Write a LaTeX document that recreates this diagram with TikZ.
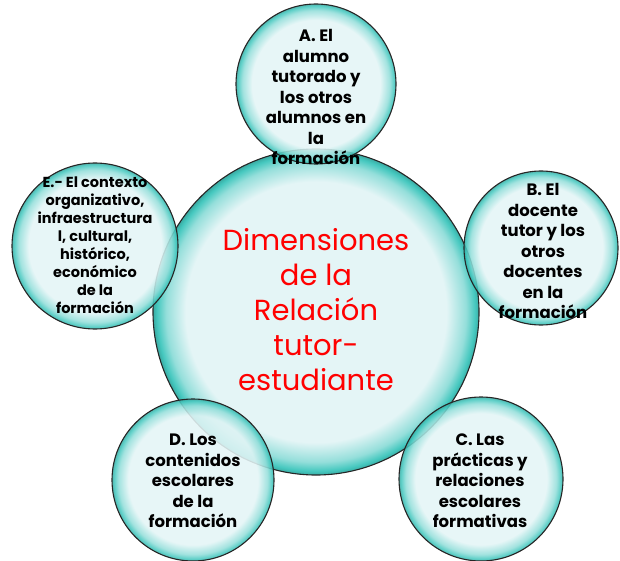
\documentclass[tikz,border=0pt]{standalone}
\usepackage{fontspec}
\setmainfont{Poppins}
\definecolor{aguaclaro}{HTML}{E4F5F6}
\definecolor{aguaborde}{HTML}{45C8BF}
\definecolor{rojo}{HTML}{FF0000}
\pgfdeclareradialshading{burbuja}{\pgfpoint{0bp}{0bp}}{color(0bp)=(aguaclaro); color(20bp)=(aguaclaro); color(23bp)=(aguaborde!50!aguaclaro); color(24.4bp)=(aguaborde); color(25bp)=(aguaborde!85!black); color(50bp)=(aguaborde)}
\tikzset{
  kreis/.style={circle, draw=black!85, line width=1.1pt, shading=burbuja, inner sep=0pt},
  klein/.style={kreis, fill opacity=0.88},
  tklein/.style={align=center, font=\bfseries\fontsize{16.5}{20.5}\selectfont, text=black}
}
\begin{document}
\begin{tikzpicture}[x=1pt, y=-1pt]
  \useasboundingbox (0,0) rectangle (620,561);
  % Zentrum
  \node[kreis, minimum size=326pt] (centro) at (316,312) {};
  % Dimensionen
  \node[klein, minimum size=160pt] (dimA) at (316,84) {};
  \node[klein, minimum size=154pt] (dimB) at (541,248) {};
  \node[klein, minimum size=164pt] (dimC) at (481,479) {};
  \node[klein, minimum size=162pt] (dimD) at (193,480) {};
  \node[klein, minimum size=166pt] (dimE) at (95,246) {};
  % Beschriftungen
  \node[align=center, text=rojo, font=\fontsize{29}{35}\selectfont] (tcentro) at (316,310)
    {Dimensiones\\de la\\Relación\\tutor-\\estudiante};
  \node[tklein] (tA) at (316,97) {A. El\\alumno\\tutorado y\\los otros\\alumnos en\\la\\formación};
  \node[tklein] (tB) at (543,251) {B. El\\docente\\tutor y los\\otros\\docentes\\en la\\formación};
  \node[tklein] (tC) at (480,481) {C. Las\\prácticas y\\relaciones\\escolares\\formativas};
  \node[tklein] (tD) at (193,481) {D. Los\\contenidos\\escolares\\de la\\formación};
  \node[tklein, font=\bfseries\fontsize{14.5}{18}\selectfont] (tE) at (95,245)
    {E.- El contexto\\organizativo,\\infraestructura\\l, cultural,\\histórico,\\económico\\de la\\formación};
\end{tikzpicture}
\end{document}
